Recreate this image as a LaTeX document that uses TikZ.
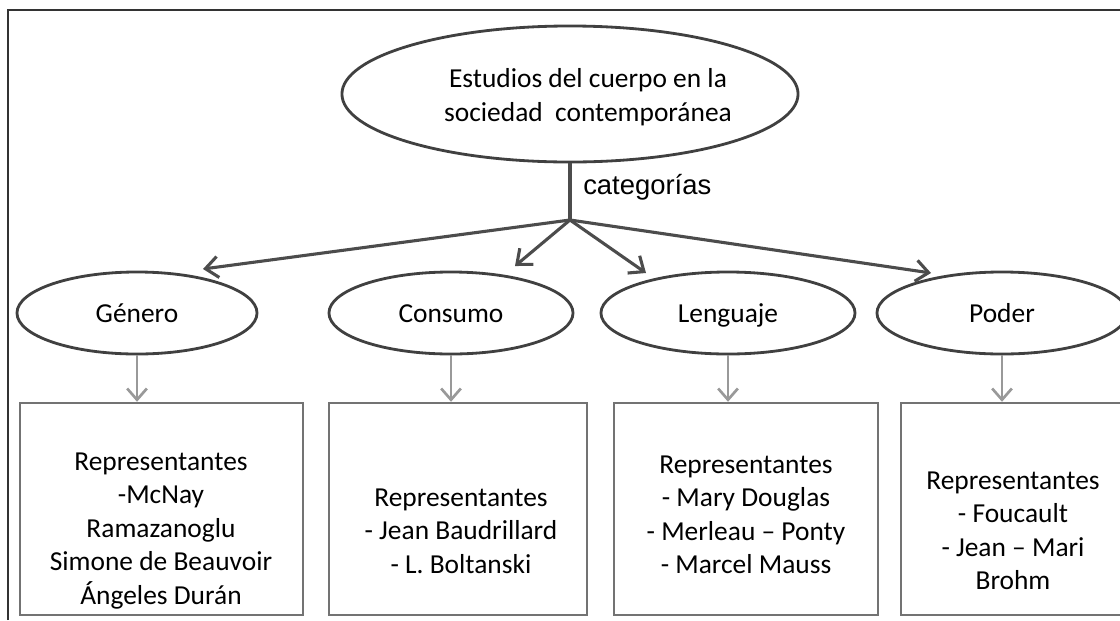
\documentclass[tikz,border=0pt]{standalone}
\usepackage{fontspec}
\setmainfont{Carlito}
\newfontfamily\arialfont{Liberation Sans}
\usetikzlibrary{shapes.geometric,arrows.meta}

\tikzset{
  cat/.style={ellipse, draw=black!75, line width=2pt, inner sep=0pt, text height=14pt, text depth=0pt, font=\fontsize{19.5}{23.8}\selectfont},
  repbox/.style={draw=black!55, line width=1.7pt, inner sep=0pt, minimum height=5.3cm},
  reptext/.style={align=center, inner sep=0pt, font=\fontsize{19.5}{23.8}\selectfont},
  mainarrow/.style={draw=black!70, line width=2.2pt, -{Straight Barb[length=9pt,width=15pt]}},
  subarrow/.style={draw=black!40, line width=1.9pt, -{Straight Barb[length=8pt,width=14pt]}}
}

\begin{document}
\begin{tikzpicture}[x=0.025cm,y=-0.025cm]
			%%%%% START %%%%%
			\useasboundingbox (0,0) rectangle (1120,620);
			\draw[line width=1.5pt, black!80] (8,620) -- (8,10) -- (1120,10);
			
			\node[cat, minimum width=11.4cm, minimum height=3.4cm] (cuerpo) at (570,94) {};
			\node[reptext] (cuerpotxt) at (588,97) {Estudios del cuerpo en la\\sociedad\ \ contemporánea};
			\coordinate (junc) at (570,220);
			\draw[line width=2.2pt, black!70] (cuerpo.south) -- (junc);
			\node[anchor=west, inner sep=0pt, font=\arialfont\fontsize{19.5}{23.8}\selectfont] (catlbl) at (583,187) {categorías};
			
			\node[cat, minimum width=6cm, minimum height=2.05cm] (gen) at (137,313) {Género};
			\node[cat, minimum width=6.1cm, minimum height=2.05cm] (cons) at (451,313) {Consumo};
			\node[cat, minimum width=6.35cm, minimum height=2.05cm] (leng) at (728,313) {Lenguaje};
			\node[cat, minimum width=6.25cm, minimum height=2.05cm] (pod) at (1002,313) {Poder};
			
			\coordinate (tgen) at (203,269);
			\coordinate (tcons) at (515,266);
			\coordinate (tleng) at (646,273);
			\coordinate (tpod) at (931,273);
			\draw[mainarrow] (junc) -- (tgen);
			\draw[mainarrow] (junc) -- (tcons);
			\draw[mainarrow] (junc) -- (tleng);
			\draw[mainarrow] (junc) -- (tpod);
			
			\node[repbox, minimum width=7.075cm] (genbox) at (161.5,509) {};
			\node[repbox, minimum width=6.45cm] (consbox) at (458,509) {};
			\node[repbox, minimum width=6.6cm] (lengbox) at (746,509) {};
			\node[repbox, minimum width=5.6cm] (podbox) at (1013,509) {};
			
			\draw[subarrow] (gen.south) -- (gen.south |- genbox.north);
			\draw[subarrow] (cons.south) -- (cons.south |- consbox.north);
			\draw[subarrow] (leng.south) -- (leng.south |- lengbox.north);
			\draw[subarrow] (pod.south) -- (pod.south |- podbox.north);
			
			\node[reptext] (gentxt) at (161,531) {Representantes\\-McNay\\Ramazanoglu\\Simone de Beauvoir\\Ángeles Durán};
			\node[reptext] (constxt) at (461,531) {Representantes\\- Jean Baudrillard\\- L. Boltanski};
			\node[reptext] (lengtxt) at (746,515) {Representantes\\- Mary Douglas\\- Merleau -- Ponty\\- Marcel Mauss};
			\node[reptext] (podtxt) at (1013,531) {Representantes\\- Foucault\\- Jean -- Mari\\Brohm};
			%%%%% END %%%%%
\end{tikzpicture}
\end{document}
